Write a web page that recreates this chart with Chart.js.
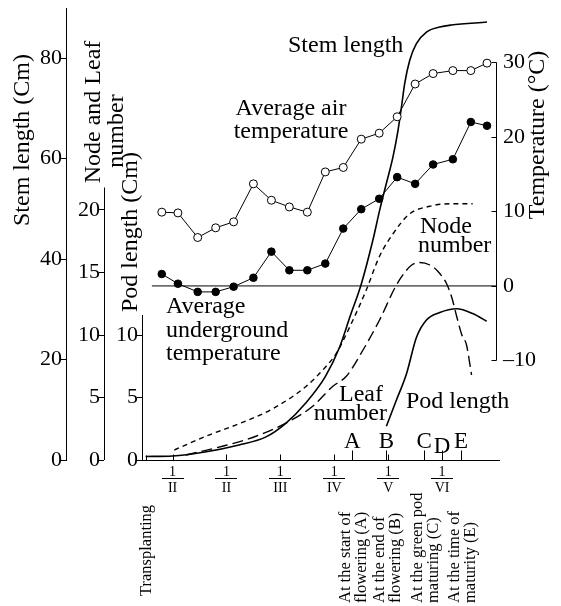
<!DOCTYPE html>
<html>
<head>
<meta charset="utf-8">
<script src="https://cdn.jsdelivr.net/npm/chart.js@4.4.1/dist/chart.umd.min.js"></script>
<style>
  html, body { margin: 0; padding: 0; background: #fff; }
  canvas { display: block; }
</style>
</head>
<body>
<canvas id="growthChart" width="561" height="606"></canvas>
<script>
// x values are days after transplanting

// average air / underground temperature (°C), about every 10 days
const tempDays = [9, 18, 29, 39, 49, 60, 70, 80, 90, 100, 110, 120, 130, 140, 150, 160, 171, 181, 190];
const airTemp = [9.9, 9.8, 6.5, 7.8, 8.6, 13.7, 11.5, 10.6, 9.9, 15.3, 15.9, 19.7, 20.5, 22.7, 27.1, 28.5, 28.9, 28.9, 29.9];
const soilTemp = [1.6, 0.3, -0.8, -0.8, -0.1, 1.1, 4.6, 2.1, 2.1, 3.0, 7.7, 10.3, 11.7, 14.6, 13.7, 16.3, 17.0, 22.0, 21.5];

// stem length (cm)
const stemDays = [0, 15, 33, 52, 67, 78, 89, 100, 108, 114, 120, 126.5, 130.3, 134, 137.7, 140.5, 142.4, 144.2, 147, 150.7, 156.3, 163.7, 170, 190];
const stemLength = [0.7, 0.8, 1.6, 3.0, 4.6, 7.3, 11.3, 16.6, 22.5, 28.8, 35, 43.8, 49.8, 55.1, 60.4, 65.7, 70.3, 75.0, 79.6, 82.9, 85.2, 86.2, 86.6, 87.2];

// node number
const nodeDays = [16, 33.5, 52, 70.7, 89.4, 100.5, 106, 115.4, 122.8, 130.2, 137.7, 147, 158.2, 169.3, 182];
const nodeNumber = [0.8, 1.9, 2.9, 4.1, 5.9, 7.5, 8.5, 11.2, 13.6, 16.3, 18.1, 19.7, 20.3, 20.5, 20.5];

// leaf number
const leafDays = [22.4, 42.8, 61.4, 80, 93, 104.2, 111.7, 121, 130.2, 139.2, 144.2, 148.1, 152.6, 158.2, 162.6, 167.5, 170.4, 173.1, 176, 178.6, 181.4];
const leafNumber = [0.4, 1.1, 1.9, 3.1, 4.3, 5.9, 6.7, 8.8, 11.2, 13.9, 15.0, 15.6, 15.8, 15.6, 15.1, 14.1, 13.0, 11.5, 10.0, 9.2, 6.8];

// pod length (cm)
const podDays = [134, 139.6, 145.2, 150.7, 156.3, 163.7, 173, 182.3, 189.8];
const podLength = [2.7, 4.8, 6.9, 9.8, 11.2, 11.8, 12.1, 11.7, 11.1];

// axis ticks
const stemTicks = [0, 20, 40, 60, 80];
const nodeTicks = [0, 5, 10, 15, 20];
const podTicks = [0, 5, 10];
const tempTicks = [-10, 0, 10, 20, 30];

const monthDays = [15, 45, 75, 105, 135, 165];
const monthLabels = ['II', 'II', 'III', 'IV', 'V', 'VI'];

const stageDays = [115, 134, 155, 165, 175.5];
const stageLetters = ['A', 'B', 'C', 'D', 'E'];

const transplantDay = 0;
const noteDays = [115, 134, 155, 175.5];
const noteTexts = [
  ['At the start of', 'flowering (A)'],
  ['At the end of', 'flowering (B)'],
  ['At the green pod', 'maturing (C)'],
  ['At the time of', 'maturity (E)']
];

const SERIF = '"Liberation Serif", "Times New Roman", serif';

function pts(xs, ys) {
  return xs.map((d, i) => ({ x: d, y: ys[i] }));
}

function fixWidth(w) {
  return function (scale) {
    scale.width = w;
    scale.paddingTop = 0;
    scale.paddingBottom = 0;
  };
}

function onlyTicks(values) {
  return function (scale) {
    scale.ticks = values.map(v => ({ value: v }));
  };
}

const tickFont = { family: SERIF, size: 22 };

function leftAxis(min, max, weight, ticks, border) {
  return {
    type: 'linear',
    position: 'left',
    weight: weight,
    min: min,
    max: max,
    afterBuildTicks: onlyTicks(ticks),
    afterFit: fixWidth(38),
    border: { display: border, color: '#000', width: 1 },
    grid: { drawOnChartArea: false, color: '#000', tickLength: 5, tickWidth: 1 },
    ticks: { color: '#000', font: tickFont, padding: -1, autoSkip: false, maxRotation: 0 }
  };
}

// partial axis lines, fraction dates, stage marks and all the written labels
const decorations = {
  id: 'decorations',
  afterDraw(chart) {
    const ctx = chart.ctx;
    const { x, node, pod, temp } = chart.scales;
    const area = chart.chartArea;
    const r = v => Math.round(v) + 0.5;
    ctx.save();
    ctx.strokeStyle = '#000';
    ctx.fillStyle = '#000';
    ctx.lineWidth = 1;

    const line = (x1, y1, x2, y2) => {
      ctx.beginPath();
      ctx.moveTo(x1, y1);
      ctx.lineTo(x2, y2);
      ctx.stroke();
    };

    // node/leaf and pod axes only run up to their labelled part
    line(r(node.right), node.getPixelForValue(21.8), r(node.right), area.bottom);
    line(r(pod.right), pod.getPixelForValue(11.6), r(pod.right), area.bottom);

    // temperature axis with inward ticks
    const tx = r(area.right);
    line(tx, temp.getPixelForValue(30), tx, temp.getPixelForValue(-10));
    tempTicks.forEach(v => {
      const y = r(temp.getPixelForValue(v));
      line(tx - 5, y, tx, y);
    });

    // time axis
    const by = r(area.bottom);
    line(area.left, by, area.right + 4, by);
    const tp = r(x.getPixelForValue(transplantDay));
    line(tp, by, tp, by - 5);
    monthDays.forEach(d => {
      const px = r(x.getPixelForValue(d));
      line(px, by, px, by - 6);
    });
    stageDays.forEach(d => {
      const px = r(x.getPixelForValue(d));
      line(px, by, px, by - 10);
    });

    // month labels written as fractions 1 / month
    ctx.textAlign = 'center';
    ctx.textBaseline = 'alphabetic';
    ctx.font = '14px ' + SERIF;
    monthDays.forEach((d, i) => {
      const px = x.getPixelForValue(d);
      ctx.fillText('1', px, 476);
      ctx.fillRect(Math.round(px) - 11, 478, 22, 1);
      ctx.fillText(monthLabels[i], px, 492);
    });

    // stage letters
    ctx.font = '23px ' + SERIF;
    stageDays.forEach((d, i) => {
      const px = x.getPixelForValue(d);
      const drop = stageLetters[i] === 'D' ? 5 : 0;
      ctx.fillText(stageLetters[i], px, 448 + drop);
    });

    const vtext = (text, cx, cy, align) => {
      ctx.save();
      ctx.translate(cx, cy);
      ctx.rotate(-Math.PI / 2);
      ctx.textAlign = align;
      ctx.textBaseline = 'middle';
      ctx.fillText(text, 0, 0);
      ctx.restore();
    };

    // stage notes under the time axis
    ctx.font = '16.5px ' + SERIF;
    vtext('Transplanting', x.getPixelForValue(transplantDay) + 1.5, 596, 'left');
    noteDays.forEach((d, i) => {
      const px = x.getPixelForValue(d) + 1.5;
      vtext(noteTexts[i][0], px - 8, 603, 'left');
      vtext(noteTexts[i][1], px + 8, 603, 'left');
    });

    // axis titles
    ctx.font = '24px ' + SERIF;
    vtext('Stem length (Cm)', 23, 140, 'center');
    vtext('Node and Leaf', 94, 112, 'center');
    vtext('number', 117, 131, 'center');
    vtext('Pod length (Cm)', 131, 232, 'center');
    vtext('Temperature (°C)', 538, 135, 'center');

    // curve labels
    ctx.textBaseline = 'alphabetic';
    ctx.textAlign = 'left';
    ctx.fillText('Stem length', 288, 52);
    ctx.fillText('Node', 420, 233);
    ctx.fillText('number', 418, 252);
    ctx.fillText('Average', 166, 313);
    ctx.fillText('underground', 166, 337);
    ctx.fillText('temperature', 166, 360);
    ctx.fillText('Pod length', 406, 408);
    ctx.textAlign = 'center';
    ctx.fillText('Average air', 291, 115);
    ctx.fillText('temperature', 291, 138);
    ctx.textAlign = 'right';
    ctx.fillText('Leaf', 383, 401);
    ctx.fillText('number', 387, 420);

    ctx.restore();
  }
};

const ctx = document.getElementById('growthChart').getContext('2d');
const growthChart = new Chart(ctx, {
  type: 'line',
  data: {
    datasets: [
      {
        label: 'zero line',
        data: [{ x: 3.5, y: 0 }, { x: 195, y: 0 }],
        yAxisID: 'temp',
        borderColor: '#000',
        borderWidth: 1,
        pointRadius: 0
      },
      {
        label: 'Average air temperature',
        data: pts(tempDays, airTemp),
        yAxisID: 'temp',
        borderColor: '#000',
        borderWidth: 1,
        pointRadius: 4,
        pointBackgroundColor: '#fff',
        pointBorderColor: '#000',
        pointBorderWidth: 1
      },
      {
        label: 'Average underground temperature',
        data: pts(tempDays, soilTemp),
        yAxisID: 'temp',
        borderColor: '#000',
        borderWidth: 1,
        pointRadius: 3.8,
        pointBackgroundColor: '#000',
        pointBorderColor: '#000',
        pointBorderWidth: 1
      },
      {
        label: 'Stem length',
        data: pts(stemDays, stemLength),
        yAxisID: 'stem',
        borderColor: '#000',
        borderWidth: 1.6,
        pointRadius: 0,
        cubicInterpolationMode: 'monotone'
      },
      {
        label: 'Node number',
        data: pts(nodeDays, nodeNumber),
        yAxisID: 'node',
        borderColor: '#000',
        borderWidth: 1.4,
        borderDash: [5, 4],
        pointRadius: 0,
        cubicInterpolationMode: 'monotone'
      },
      {
        label: 'Leaf number',
        data: pts(leafDays, leafNumber),
        yAxisID: 'node',
        borderColor: '#000',
        borderWidth: 1.4,
        borderDash: [11, 5],
        pointRadius: 0,
        cubicInterpolationMode: 'monotone'
      },
      {
        label: 'Pod length',
        data: pts(podDays, podLength),
        yAxisID: 'pod',
        borderColor: '#000',
        borderWidth: 1.6,
        pointRadius: 0,
        cubicInterpolationMode: 'monotone'
      }
    ]
  },
  options: {
    responsive: false,
    animation: false,
    devicePixelRatio: 1,
    layout: { padding: { left: 28, top: 8, right: 5, bottom: 146 } },
    plugins: { legend: { display: false }, tooltip: { enabled: false } },
    scales: {
      x: { type: 'linear', min: -2, max: 195, display: false },
      stem: leftAxis(0, 90, 2, stemTicks, true),
      node: leftAxis(0, 36.16, 1, nodeTicks, false),
      pod: leftAxis(0, 36.16, 0, podTicks, false),
      temp: {
        type: 'linear',
        position: 'right',
        min: -23.36,
        max: 37.3,
        afterBuildTicks: onlyTicks(tempTicks),
        afterFit: fixWidth(60),
        border: { display: false },
        grid: { display: false, drawTicks: false },
        ticks: {
          color: '#000',
          font: tickFont,
          padding: 7,
          autoSkip: false,
          maxRotation: 0,
          callback: v => (v < 0 ? '–' + Math.abs(v) : String(v))
        }
      }
    }
  },
  plugins: [decorations]
});
</script>
</body>
</html>
